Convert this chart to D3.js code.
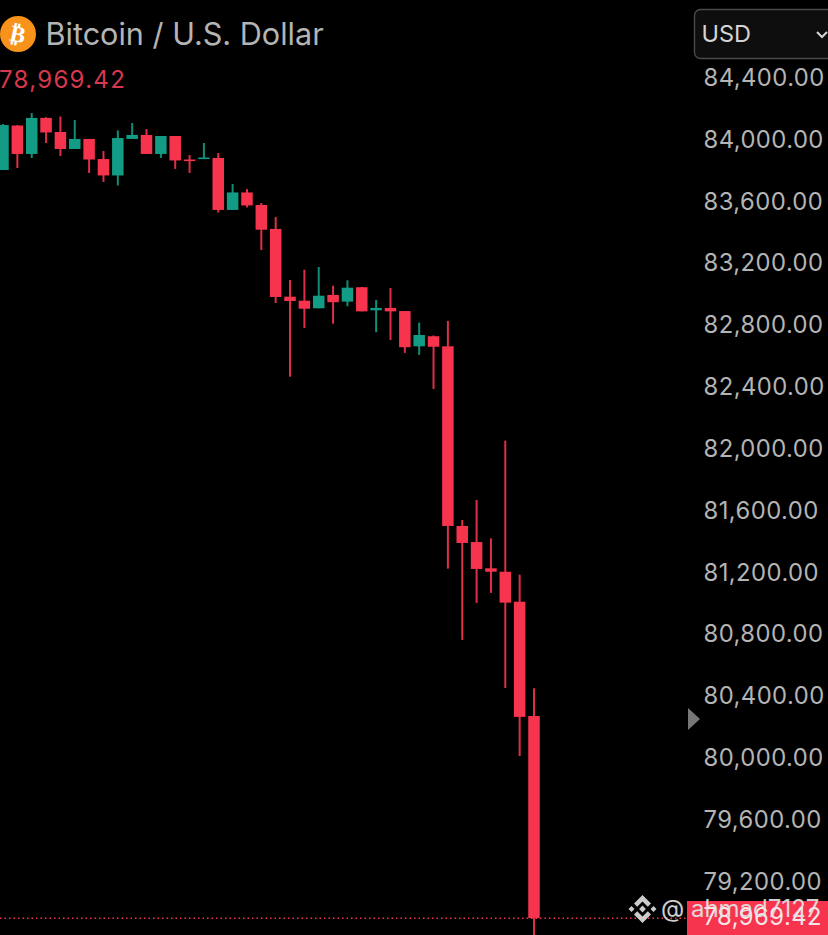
<!DOCTYPE html>
<html><head><meta charset="utf-8">
<script src="https://cdn.jsdelivr.net/npm/d3@7/dist/d3.min.js"></script>
<style>html,body{margin:0;padding:0;background:#000;overflow:hidden}svg{display:block}text{font-family:Inter,"Noto Sans",sans-serif}</style>
</head><body><svg id="c" width="828" height="935"></svg>
<script>
const title = "Bitcoin / U.S. Dollar";
const lastPrice = 78969.42;
const currency = "USD";
const watermark = "@ ahmad7127";
const priceTicks = [84400,84000,83600,83200,82800,82400,82000,81600,81200,80800,80400,80000,79600,79200];
const opens  = [83808,84096,83912,84145,84054,83944,84009,83879,83773,84009,84035,83912,84028,83876,83879,83886,83550,83663,83582,83427,82989,82963,82914,83000,82957,83050,82901,82916,82896,82668,82733,82668,81506,81402,81232,81210,81016,80277];
const highs  = [84106,84099,84177,84150,84154,84132,84009,83931,84064,84112,84073,84028,84028,83905,83983,83918,83718,83685,83595,83504,83097,83163,83181,83060,83095,83052,82967,83045,82896,82821,82738,82832,81545,81674,81426,82058,81191,80456];
const lows   = [83808,83821,83886,83983,83899,83944,83789,83731,83708,84009,83912,83886,83815,83789,83879,83533,83550,83566,83291,82948,82471,82786,82914,82814,82927,82894,82759,82709,82625,82612,82392,81230,80769,81008,81073,80458,80018,78820];
const closes = [84099,83912,84145,84051,83944,84009,83876,83773,84015,84035,83912,84028,83870,83866,83889,83550,83663,83579,83422,82987,82961,82911,82995,82953,83047,82894,82916,82894,82662,82741,82665,81506,81396,81228,81210,81010,80271,78969.42];

const RED="#f6344e", GREEN="#129c85", AXIS="#b4b4b4";
const svg=d3.select("#c");
const x=d3.scaleLinear().domain([0,37]).range([3,534]);
const y=d3.scaleLinear().domain([84400,79200]).range([78.5,882.5]);
const idx=d3.range(opens.length);
const col=i=>closes[i]>=opens[i]?GREEN:RED;
const bodyW=11.5;

// last price line
svg.append("line").attr("x1",0).attr("x2",687).attr("y1",y(lastPrice)).attr("y2",y(lastPrice))
  .attr("stroke",RED).attr("stroke-width",1.5).attr("stroke-dasharray","1.5 3");

// candles
const g=svg.append("g");
g.selectAll("line.w").data(idx).join("line").attr("class","w")
  .attr("x1",x).attr("x2",x).attr("y1",i=>y(highs[i])).attr("y2",i=>y(lows[i]))
  .attr("stroke",col).attr("stroke-width",2).attr("stroke-opacity",0.9);
g.selectAll("rect.b").data(idx).join("rect").attr("class","b")
  .attr("x",i=>x(i)-bodyW/2).attr("width",bodyW)
  .attr("y",i=>y(Math.max(opens[i],closes[i])))
  .attr("height",i=>Math.max(1.6,Math.abs(y(opens[i])-y(closes[i]))))
  .attr("fill",col);

// axis
const tickSize=23.8, tickSpacing="0.45px";
const axis=d3.axisRight(y).tickValues(priceTicks).tickFormat(d3.format(",.2f")).tickSize(0).tickPadding(0);
const ax=svg.append("g").attr("transform","translate(703.5,-1.5)").call(axis);
ax.select(".domain").remove();
ax.selectAll("text").attr("fill",AXIS).attr("font-size",tickSize).style("font-family","Inter,sans-serif").style("letter-spacing",tickSpacing).attr("x",0).attr("dy","0.35em");

// last price tag
svg.append("rect").attr("x",687).attr("y",901).attr("width",141).attr("height",34).attr("fill",RED);
svg.append("text").attr("x",703.5).attr("y",y(lastPrice)-1.5).attr("dy","0.35em").attr("fill","#f4e6e8").attr("font-size",tickSize).style("letter-spacing",tickSpacing).text(d3.format(",.2f")(lastPrice));

// scale arrow
svg.append("path").attr("d",d3.line()([[688,708],[700,719],[688,730]])+"Z").attr("fill","#777");

// header
svg.append("circle").attr("cx",18).attr("cy",34).attr("r",18).attr("fill","#f7931a");
svg.append("text").attr("x",18).attr("y",34).attr("dy","0.35em").attr("text-anchor","middle").attr("fill","#fff")
  .attr("font-size",23).attr("font-weight",700).attr("transform","rotate(12 18 34)").style("font-family","'DejaVu Sans'").text("₿");
svg.append("text").attr("x",45.5).attr("y",45).attr("fill",AXIS).attr("font-size",30.6).text(title);
svg.append("text").attr("x",-1).attr("y",88).attr("fill","#d8374d").attr("font-size",24).style("letter-spacing","1.3px").text(d3.format(",.2f")(lastPrice));

// currency box
svg.append("rect").attr("x",694.5).attr("y",9.5).attr("width",150).attr("height",49).attr("rx",6).attr("fill","#0e0e0e").attr("stroke","#4a4a4a").attr("stroke-width",1.4);
svg.append("text").attr("x",701.5).attr("y",42).attr("fill","#d4d4d4").attr("font-size",23.5).text(currency);
svg.append("path").attr("d","M817 32l5 5 5-5").attr("fill","none").attr("stroke","#d4d4d4").attr("stroke-width",2);

// watermark
const wm=svg.append("g").attr("fill","#dcdcdc").attr("opacity",0.92);
const dia=(cx,cy,r)=>`M${cx} ${cy-r}L${cx+r} ${cy}L${cx} ${cy+r}L${cx-r} ${cy}Z`;
wm.append("path").attr("fill-rule","evenodd").attr("d",
  dia(642.5,909,3.4)+dia(631.5,909,3)+dia(653.5,909,3)+
  "M642.5 895L651 903.5L647.8 906.7L642.5 901.4L637.2 906.7L634 903.5Z"+
  "M642.5 923L651 914.5L647.8 911.3L642.5 916.6L637.2 911.3L634 914.5Z");
svg.append("text").attr("x",661).attr("y",917).attr("fill","#e6e6e6").attr("opacity",0.9).attr("font-size",24).text(watermark);
</script></body></html>
